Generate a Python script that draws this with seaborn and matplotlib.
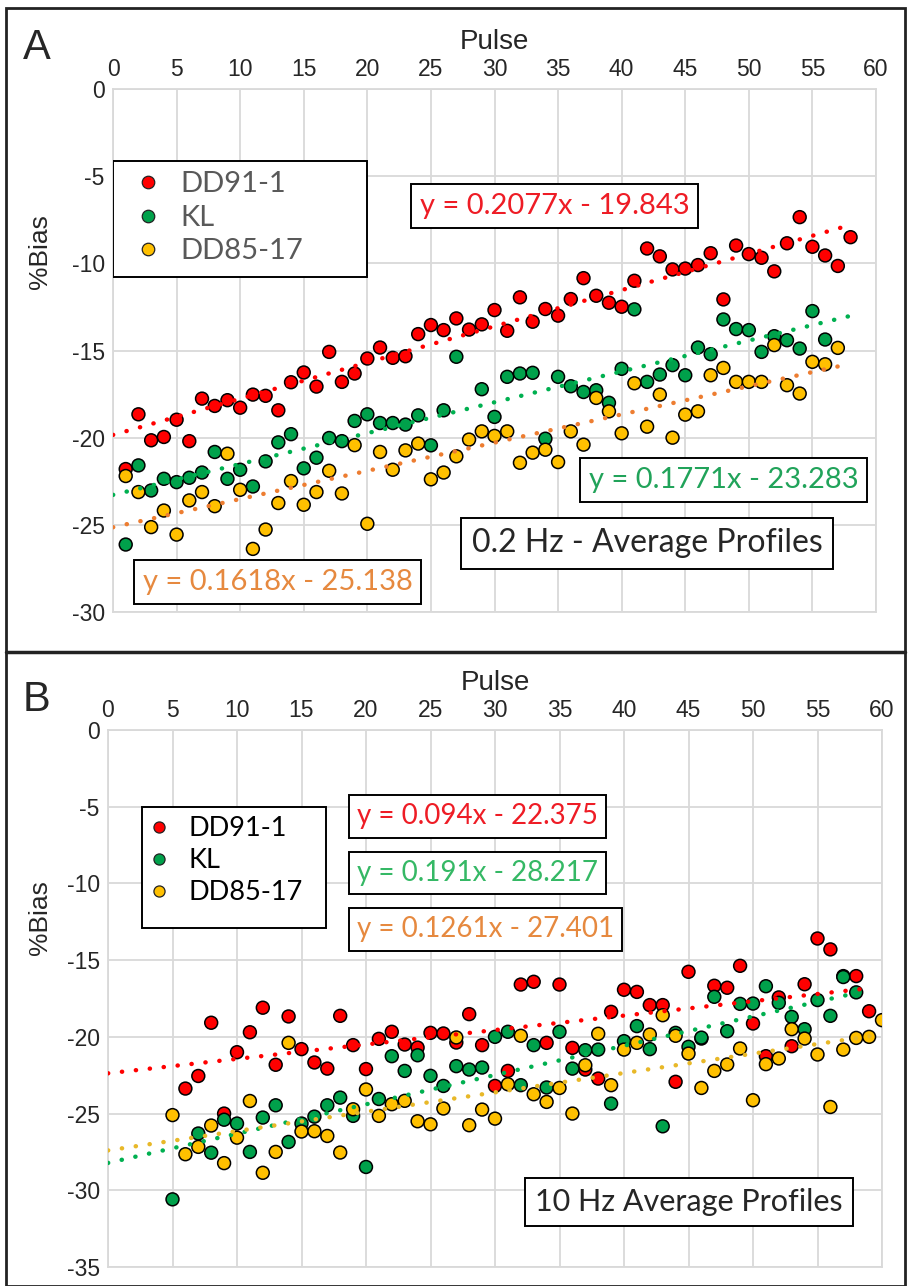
import numpy as np
import pandas as pd
import matplotlib.pyplot as plt
from matplotlib.lines import Line2D
from matplotlib.patches import Rectangle
import seaborn as sns


samples = ['DD91-1', 'KL', 'DD85-17']
marker_colors = ['#ff0000', '#00a14b', '#ffc000']

# panel A - 0.2 Hz
pulse_a_dd91 = list(range(1, 59))
bias_a_dd91 = [-21.8, -18.66, -20.15, -19.96, -18.97, -20.2, -17.76, -18.18, -17.85, -18.28,
               -17.53, -17.6, -18.43, -16.82, -16.26, -17.07, -15.08, -16.8, -16.32, -15.46,
               -14.83, -15.42, -15.33, -14.06, -13.54, -13.83, -13.16, -13.8, -13.5, -12.68,
               -13.87, -11.95, -13.35, -12.62, -13.0, -12.05, -10.85, -11.86, -12.26, -12.49,
               -11.0, -9.15, -9.6, -10.35, -10.3, -10.1, -9.42, -12.07, -8.98, -9.47,
               -9.68, -10.46, -8.85, -7.35, -9.05, -9.55, -10.15, -8.5]
pulse_a_kl = [1, 2, 3, 4, 5, 6, 7, 8, 9, 10, 11, 12, 13, 14, 15, 16, 17, 18, 19, 20,
              21, 22, 23, 24, 25, 26, 27, 29, 30, 31, 32, 33, 34, 35, 36, 37, 38, 39, 40,
              41, 42, 43, 44, 45, 46, 47, 48, 49, 50, 51, 52, 53, 54, 55, 56]
bias_a_kl = [-26.13, -21.59, -23.03, -22.36, -22.55, -22.3, -22.0, -20.82, -22.36, -21.84,
             -22.8, -21.36, -20.27, -19.8, -21.76, -21.15, -20.02, -20.2, -19.04, -18.66,
             -19.16, -19.16, -19.25, -18.72, -20.44, -18.43, -15.36, -17.22, -18.81, -16.51,
             -16.32, -16.28, -20.06, -16.51, -17.05, -17.38, -17.28, -18.0, -16.05,
             -12.64, -16.8, -16.38, -15.84, -16.42, -14.83, -15.21, -13.22, -13.77, -13.83,
             -15.08, -14.18, -14.41, -14.89, -12.74, -14.37]
pulse_a_dd85 = list(range(1, 58))
bias_a_dd85 = [-22.2, -23.12, -25.13, -24.18, -25.56, -23.6, -23.12, -23.93, -20.92, -22.99,
               -26.38, -25.27, -23.75, -22.49, -23.85, -23.12, -21.9, -23.2, -20.43, -24.94,
               -20.82, -21.84, -20.73, -20.34, -22.39, -22.0, -21.07, -20.11, -19.64, -19.9,
               -19.64, -21.44, -20.86, -20.69, -21.4, -19.64, -20.4, -17.72, -18.49, -19.75,
               -16.88, -19.37, -17.53, -20.0, -18.68, -18.49, -16.42, -16.0, -16.8, -16.8,
               -16.8, -14.69, -16.99, -17.47, -15.65, -15.79, -14.85]
slope_a = [0.2077, 0.1771, 0.1618]
intercept_a = [-19.843, -23.283, -25.138]
trend_end_a = [58, 58, 58]

# panel B - 10 Hz
pulse_b_dd91 = list(range(6, 60))
bias_b_dd91 = [-23.37, -22.55, -19.08, -25.0, -21.0, -19.7, -18.1, -21.82, -18.67, -20.8,
               -21.67, -22.07, -18.63, -20.54, -22.1, -20.13, -19.67, -20.5, -20.7, -19.74,
               -19.78, -20.37, -18.52, -20.54, -23.2, -22.22, -16.59, -16.41, -20.39, -16.59,
               -20.72, -22.13, -22.72, -18.37, -16.93, -17.07, -17.93, -17.93, -22.93, -15.76,
               -20.11, -16.67, -16.8, -15.37, -19.13, -21.26, -17.43, -20.61, -16.57, -13.59,
               -14.3, -16.04, -16.04, -18.33]
pulse_b_kl = [5] + list(range(7, 59))
bias_b_kl = [-30.59, -26.3, -27.55, -25.4, -25.65, -27.5, -25.26, -24.46, -26.85, -25.65,
             -25.2, -24.46, -23.96, -25.15, -28.48, -24.05, -21.26, -22.22, -21.2, -22.54,
             -23.2, -21.91, -22.13, -22.0, -20.0, -19.67, -23.15, -20.54, -23.3, -19.67,
             -22.07, -20.87, -20.83, -24.35, -20.28, -19.3, -20.8, -25.83, -19.74, -20.65,
             -20.05, -17.39, -19.63, -17.85, -17.83, -16.7, -17.78, -18.7, -19.5, -17.6,
             -18.63, -16.1, -17.1]
pulse_b_dd85 = list(range(5, 61))
bias_b_dd85 = [-25.1, -27.65, -27.17, -25.78, -28.23, -26.57, -24.18, -28.86, -27.5, -20.39,
               -26.17, -26.15, -26.46, -27.54, -24.72, -23.43, -25.15, -24.39, -24.17, -25.5,
               -25.7, -24.67, -20.04, -25.76, -24.74, -25.33, -23.09, -19.93, -23.74, -24.24,
               -23.33, -25.0, -21.85, -19.8, -23.15, -20.83, -20.39, -19.85, -18.59, -19.93,
               -21.09, -23.33, -22.22, -21.8, -20.76, -24.13, -21.78, -21.41, -19.5, -20.11,
               -21.15, -24.57, -20.83, -20.07, -20.0, -18.91]
slope_b = [0.094, 0.191, 0.1261]
intercept_b = [-22.375, -28.217, -27.401]
trend_end_b = [59, 58, 60]

W, H = 909, 1286
TEXT_FONT = ['Lato', 'DejaVu Sans']
AXIS_FONT = ['Liberation Sans Narrow', 'Liberation Sans', 'DejaVu Sans']


def build_frame(pulses, biases):
    teile = []
    for name, p, b in zip(samples, pulses, biases):
        teile.append(pd.DataFrame({'pulse': p, 'bias': b, 'sample': name}))
    return pd.concat(teile, ignore_index=True)


def draw_panel(ax, frame, slopes, intercepts, ends, trend_colors, eq_colors, eq_boxes,
               title, title_xy, ymin, legend_cfg, ylabel_xy):
    sns.scatterplot(data=frame, x='pulse', y='bias', hue='sample', hue_order=samples,
                    palette=marker_colors, s=86, edgecolor='black', linewidth=1.1,
                    legend=False, ax=ax, zorder=3)
    for a, b, end, c in zip(slopes, intercepts, ends, trend_colors):
        xs = np.array([0, end])
        ax.plot(xs, a * xs + b, color=c, lw=3.2, linestyle=(0, (0.05, 3.1)),
                dash_capstyle='round', zorder=4)

    for text, (x, y, ha), c in zip(eq_boxes[0], eq_boxes[1], eq_colors):
        ax.text(x, y, text, color=c, ha=ha, va='center', family=TEXT_FONT,
                fontsize=eq_boxes[2], zorder=6,
                bbox=dict(boxstyle='square,pad=0.3', fc='white', ec='black', lw=1.4))
    ax.text(title_xy[0], title_xy[1], title, ha='center', va='center', family=TEXT_FONT,
            fontsize=title_xy[2], zorder=6,
            bbox=dict(boxstyle='square,pad=0.33', fc='white', ec='black', lw=1.4))

    # legend frame drawn by hand so its size matches the original box
    x0, y0, x1, y1 = legend_cfg['box']
    ax.add_patch(Rectangle((x0, y1), x1 - x0, y0 - y1, fc='white', ec='black', lw=1.4,
                           zorder=6))
    handles = [Line2D([], [], ls='', marker='o', ms=legend_cfg['ms'], mfc=c, mec='#222222',
                      mew=0.9) for c in marker_colors]
    leg = ax.legend(handles, samples, loc='upper left',
                    bbox_to_anchor=(x0, y0), bbox_transform=ax.transData,
                    frameon=False, prop={'family': TEXT_FONT, 'size': legend_cfg['size']},
                    labelcolor=legend_cfg['color'], handlelength=legend_cfg['hlen'],
                    handletextpad=legend_cfg['textpad'], borderpad=0.35,
                    labelspacing=0.26, borderaxespad=0)
    leg.set_zorder(7)

    ax.set_xlim(0, 60)
    ax.set_ylim(ymin, 0)
    ax.set_xticks(range(0, 61, 5))
    ax.set_yticks(range(ymin, 1, 5))
    ax.xaxis.tick_top()
    ax.xaxis.set_label_position('top')
    ax.tick_params(length=0, labelsize=16.5, pad=6)
    for lab in ax.get_xticklabels() + ax.get_yticklabels():
        lab.set_family(AXIS_FONT)
    ax.set_xlabel('Pulse', family=AXIS_FONT, fontsize=20, labelpad=6)
    ax.set_ylabel('%Bias', family=AXIS_FONT, fontsize=19)
    ax.yaxis.set_label_coords(*ylabel_xy)
    ax.grid(True, color='#d9d9d9', lw=1.3)
    ax.set_axisbelow(True)
    for sp in ax.spines.values():
        sp.set_color('#d9d9d9')
        sp.set_linewidth(1.3)


def erstelle_grafik():
    sns.set_theme(style='white')
    plt.rcParams['font.family'] = AXIS_FONT
    plt.rcParams['axes.unicode_minus'] = False
    fig = plt.figure(figsize=(W / 100, H / 100), dpi=100)
    fig.patch.set_facecolor('white')

    ax_a = fig.add_axes([113 / W, 1 - 612 / H, 763 / W, 523 / H])
    ax_b = fig.add_axes([108 / W, 1 - 1267 / H, 774 / W, 537 / H])

    frame_a = build_frame([pulse_a_dd91, pulse_a_kl, pulse_a_dd85],
                          [bias_a_dd91, bias_a_kl, bias_a_dd85])
    frame_b = build_frame([pulse_b_dd91, pulse_b_kl, pulse_b_dd85],
                          [bias_b_dd91, bias_b_kl, bias_b_dd85])

    eq_a = (['y = 0.2077x - 19.843', 'y = 0.1771x - 23.283', 'y = 0.1618x - 25.138'],
            [(34.75, -6.7, 'center'), (48.0, -22.43, 'center'), (12.95, -28.27, 'center')],
            21)
    draw_panel(ax_a, frame_a, slope_a, intercept_a, trend_end_a,
               ['#ff0000', '#00b050', '#ed7d31'], ['#ee1c25', '#21a35a', '#e6893f'],
               eq_a, '0.2 Hz - Average Profiles', (42.0, -26.05, 23), -30,
               {'box': (0.0, -4.13, 20.0, -10.77), 'size': 21, 'color': '#595959',
                'ms': 9, 'hlen': 1.7, 'textpad': 0.25},
               (-0.08, 0.69))

    eq_b = (['y = 0.094x - 22.375', 'y = 0.191x - 28.217', 'y = 0.1261x - 27.401'],
            [(19.3, -5.63, 'left'), (19.3, -9.33, 'left'), (19.3, -13.0, 'left')],
            20)
    draw_panel(ax_b, frame_b, slope_b, intercept_b, trend_end_b,
               ['#ff0000', '#00b050', '#e8b828'], ['#ee1c25', '#35b865', '#e6893f'],
               eq_b, '10 Hz Average Profiles', (45.05, -30.77, 22), -35,
               {'box': (2.6, -5.0, 16.9, -12.9), 'size': 19.5, 'color': 'black',
                'ms': 8, 'hlen': 0.6, 'textpad': 0.8},
               (-0.072, 0.65))

    fig.text(37 / W, 1 - 48 / H, 'A', fontsize=30, ha='center', va='center', family=AXIS_FONT)
    fig.text(37 / W, 1 - 700 / H, 'B', fontsize=30, ha='center', va='center', family=AXIS_FONT)
    fig.patches.append(Rectangle((6 / W, 0), 899 / W, 1 - 8 / H, transform=fig.transFigure,
                                 fill=False, ec='#222222', lw=2))
    fig.add_artist(Line2D([6 / W, 905 / W], [1 - 652 / H] * 2, transform=fig.transFigure,
                          color='#222222', lw=2.5))
    fig.savefig('out.png', dpi=100)


if __name__ == '__main__':
    erstelle_grafik()
